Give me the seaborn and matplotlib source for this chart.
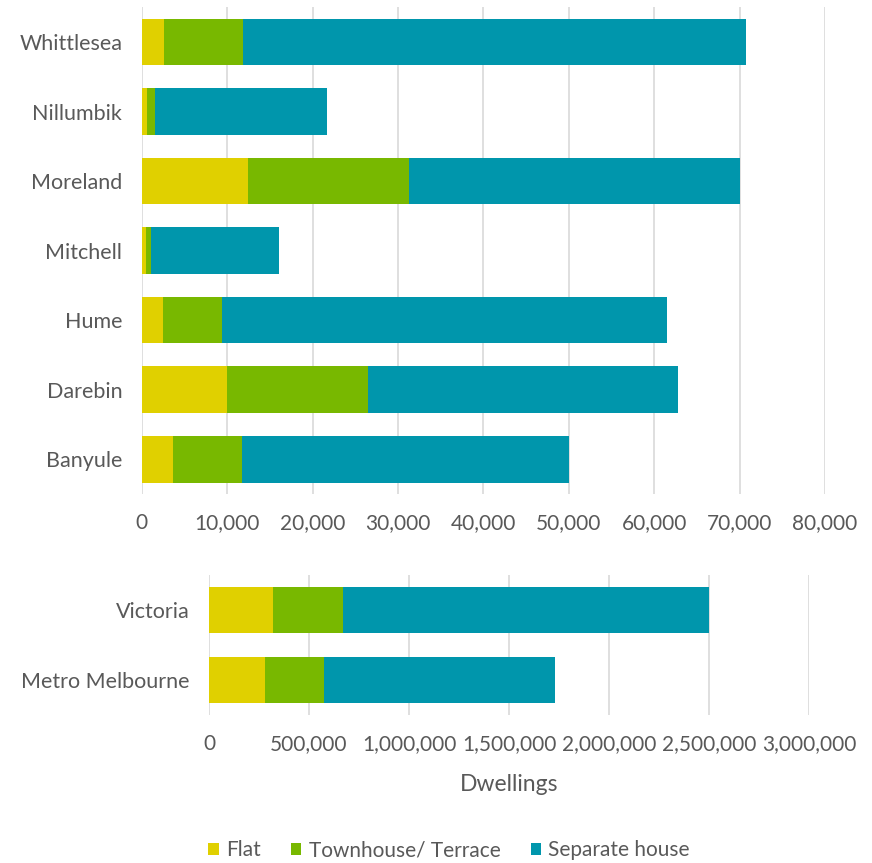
import matplotlib
matplotlib.use("Agg")
import matplotlib.pyplot as plt
from matplotlib.patches import Patch
from matplotlib.ticker import FuncFormatter
import numpy as np
import pandas as pd
import seaborn as sns

# Dwelling structure by local government area (northern Melbourne)
lgas = ["Whittlesea", "Nillumbik", "Moreland", "Mitchell", "Hume", "Darebin", "Banyule"]
lga_flat = [2600, 600, 12500, 450, 2500, 9950, 3650]
lga_townhouse = [9300, 900, 18850, 600, 6850, 16550, 8150]
lga_separate = [58800, 20150, 38700, 15000, 52150, 36300, 38200]

# Comparison regions
regions = ["Victoria", "Metro Melbourne"]
reg_flat = [318000, 282000]
reg_townhouse = [354000, 291000]
reg_separate = [1828000, 1157000]

lga_ticks = [0, 10000, 20000, 30000, 40000, 50000, 60000, 70000, 80000]
reg_ticks = [0, 500000, 1000000, 1500000, 2000000, 2500000, 3000000]

series_names = ["Flat", "Townhouse/ Terrace", "Separate house"]
colors = ["#E0D000", "#78B800", "#0096AC"]
text_color = "#595959"
grid_color = "#D9D9D9"

sns.set_theme(style="white")
plt.rcParams["font.family"] = ["Lato", "DejaVu Sans"]
plt.rcParams["text.color"] = text_color
plt.rcParams["axes.labelcolor"] = text_color
plt.rcParams["xtick.color"] = text_color
plt.rcParams["ytick.color"] = text_color

W, H = 872, 863
fig = plt.figure(figsize=(W / 100, H / 100), dpi=100)


def stacked(ax, cats, flat, town, sep):
    df = pd.DataFrame({"cat": cats, "flat": flat, "town": town, "sep": sep})
    df["c1"] = df["flat"]
    df["c2"] = df["flat"] + df["town"]
    df["c3"] = df["c2"] + df["sep"]
    # draw the widest cumulative bar first, then overlay the shorter ones
    for col, color in zip(["c3", "c2", "c1"], colors[::-1]):
        sns.barplot(data=df, x=col, y="cat", order=cats, color=color,
                    orient="h", width=0.67, saturation=1, ax=ax, zorder=3,
                    linewidth=0)
    ax.set_ylim(len(cats) - 0.5, -0.5)


def style(ax, ticks):
    ax.set_xticks(ticks)
    ax.set_xlim(ticks[0], ticks[-1])
    ax.xaxis.set_major_formatter(FuncFormatter(lambda v, p: f"{int(v):,}"))
    ax.grid(axis="x", color=grid_color, linewidth=1.2, zorder=0)
    ax.set_axisbelow(True)
    for s in ax.spines.values():
        s.set_visible(False)
    ax.tick_params(axis="both", length=0, colors=text_color)
    ax.tick_params(axis="x", pad=14, labelsize=15)
    ax.tick_params(axis="y", pad=14, labelsize=15.5)
    ax.set_ylabel("")
    ax.set_xlabel("")


ax1 = fig.add_axes([141.7 / W, 1 - 494 / H, (825 - 141.7) / W, (494 - 7.25) / H])
stacked(ax1, lgas, lga_flat, lga_townhouse, lga_separate)
style(ax1, lga_ticks)

ax2 = fig.add_axes([209 / W, 1 - 715 / H, 600 / W, 140 / H])
stacked(ax2, regions, reg_flat, reg_townhouse, reg_separate)
style(ax2, reg_ticks)
ax2.set_xlabel("Dwellings", fontsize=16.5, labelpad=14, color=text_color)

handles = [Patch(facecolor=c, edgecolor="none") for c in colors]
fig.legend(handles, series_names, loc="center", bbox_to_anchor=(449 / W, 1 - 850 / H),
           ncol=3, frameon=False, fontsize=15, handlelength=0.5,
           handleheight=0.5, handletextpad=0.35, columnspacing=1.45)

fig.savefig("out.png", dpi=100)
